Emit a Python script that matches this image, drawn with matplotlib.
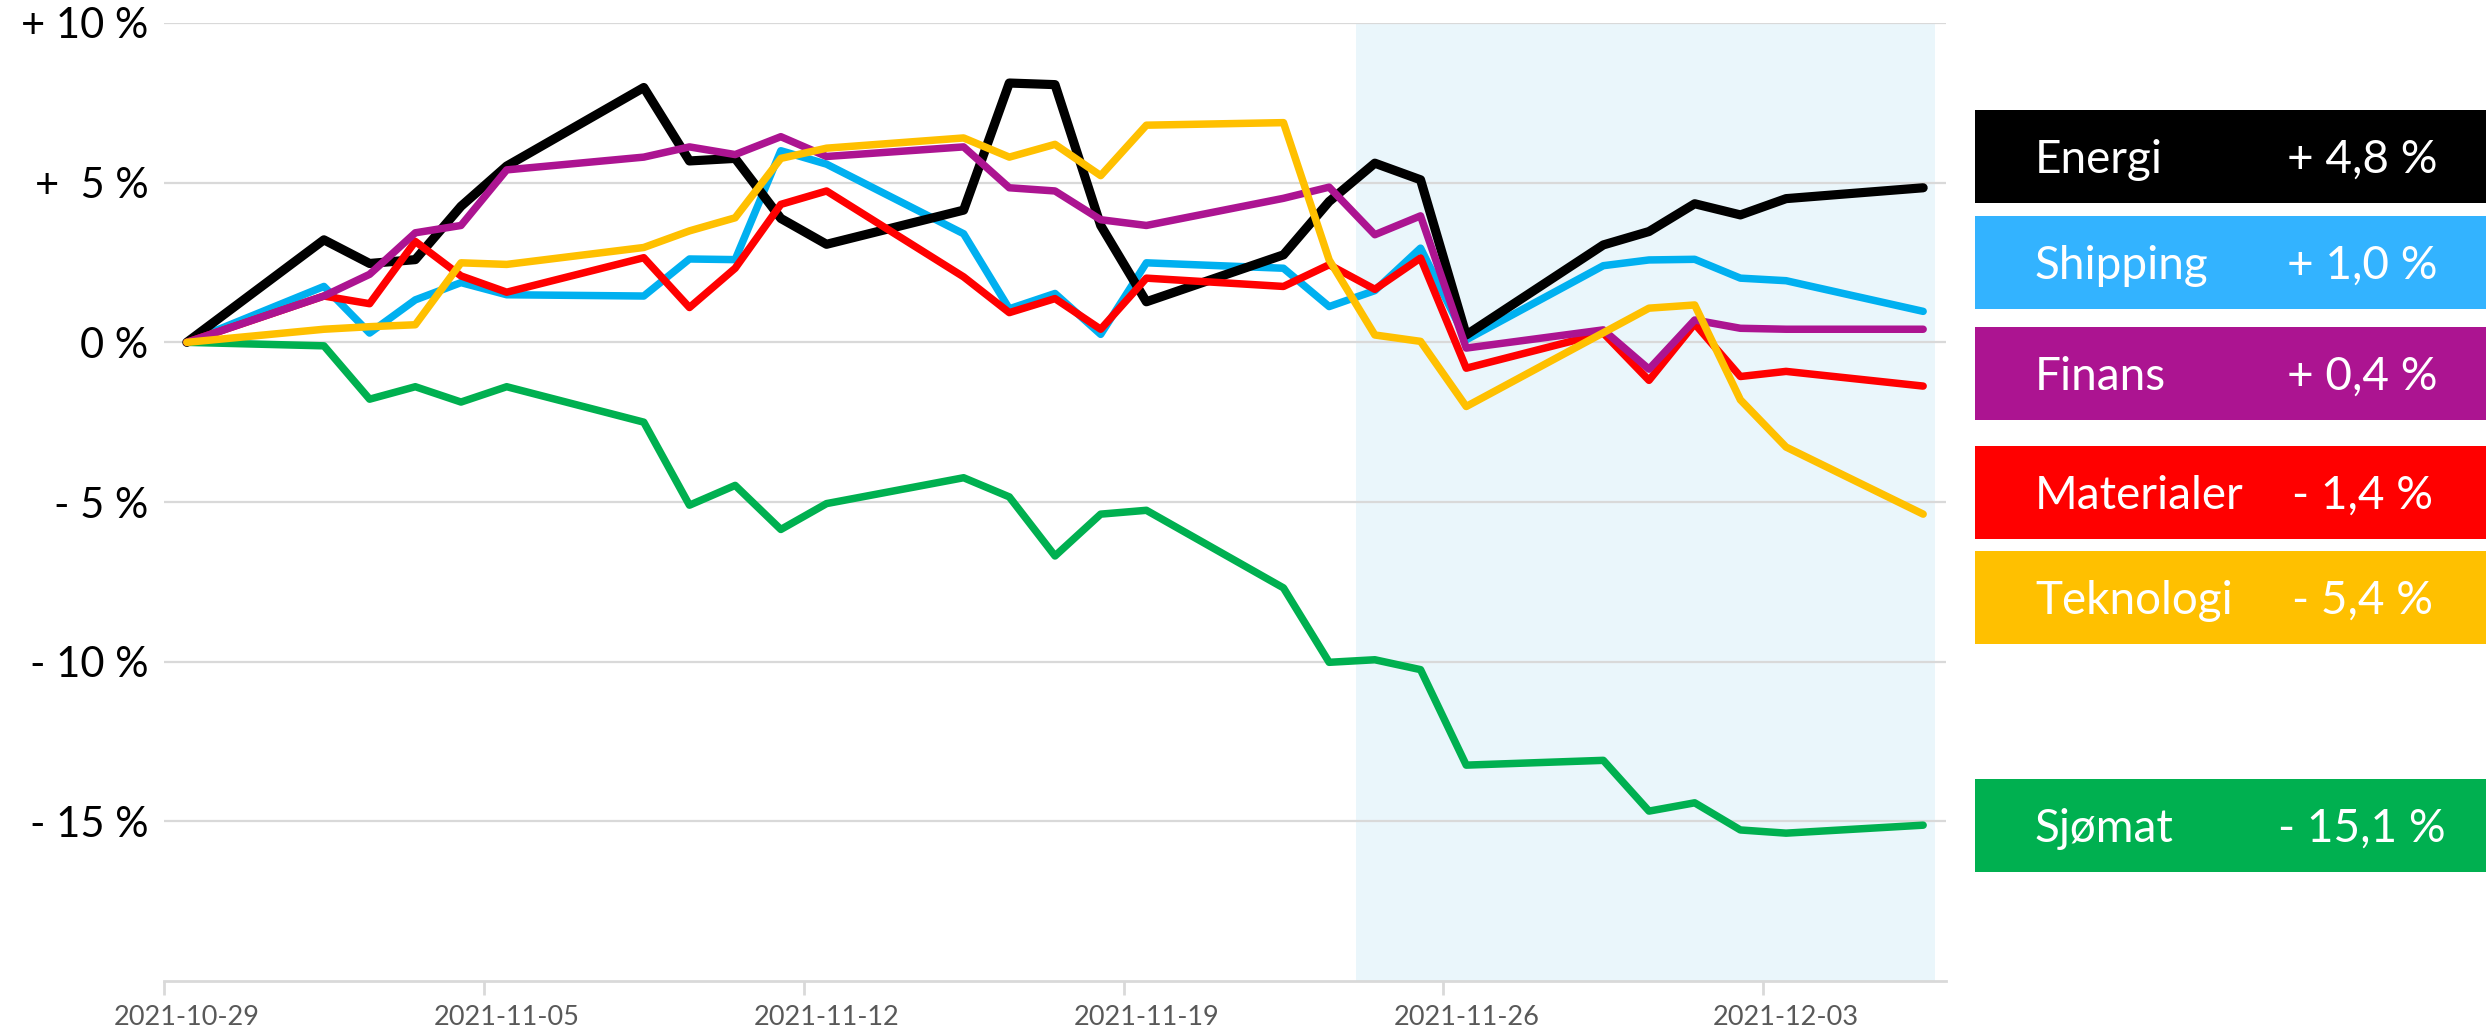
import pandas as pd
import matplotlib.pyplot as plt
from matplotlib.patches import Rectangle

plt.rcParams['font.family'] = ['Lato', 'DejaVu Sans']

# Data (prosent endring siden 29.10.2021)
datoer = pd.to_datetime([
    "2021-10-29", "2021-11-01", "2021-11-02", "2021-11-03", "2021-11-04", "2021-11-05",
    "2021-11-08", "2021-11-09", "2021-11-10", "2021-11-11", "2021-11-12",
    "2021-11-15", "2021-11-16", "2021-11-17", "2021-11-18", "2021-11-19",
    "2021-11-22", "2021-11-23", "2021-11-24", "2021-11-25", "2021-11-26",
    "2021-11-29", "2021-11-30", "2021-12-01", "2021-12-02", "2021-12-03",
    "2021-12-06",
])

energi = [0, 3.21, 2.47, 2.59, 4.26, 5.52, 7.98, 5.68, 5.76, 3.88, 3.07,
          4.14, 8.12, 8.07, 3.66, 1.27, 2.74, 4.41, 5.61, 5.09, 0.23,
          3.05, 3.47, 4.34, 3.99, 4.50, 4.84]
shipping = [0, 1.75, 0.29, 1.33, 1.87, 1.49, 1.45, 2.61, 2.59, 6.00, 5.58,
            3.40, 1.05, 1.53, 0.25, 2.49, 2.32, 1.12, 1.62, 2.95, 0.08,
            2.40, 2.58, 2.60, 2.01, 1.93, 0.97]
finans = [0, 1.45, 2.13, 3.43, 3.66, 5.40, 5.80, 6.12, 5.88, 6.44, 5.82,
          6.12, 4.84, 4.74, 3.84, 3.66, 4.51, 4.86, 3.37, 3.96, -0.18,
          0.39, -0.84, 0.70, 0.44, 0.41, 0.41]
materialer = [0, 1.45, 1.21, 3.16, 2.08, 1.57, 2.65, 1.09, 2.32, 4.32, 4.74,
              2.05, 0.93, 1.37, 0.41, 2.01, 1.75, 2.43, 1.66, 2.64, -0.81,
              0.29, -1.19, 0.58, -1.07, -0.91, -1.37]
teknologi = [0, 0.41, 0.49, 0.55, 2.49, 2.44, 2.97, 3.49, 3.90, 5.76, 6.08,
             6.40, 5.80, 6.20, 5.22, 6.80, 6.88, 2.58, 0.23, 0.03, -2.01,
             0.30, 1.07, 1.17, -1.80, -3.28, -5.38]
sjomat = [0, -0.11, -1.78, -1.39, -1.87, -1.39, -2.50, -5.10, -4.48, -5.86, -5.05,
          -4.24, -4.84, -6.69, -5.38, -5.26, -7.69, -10.02, -9.94, -10.25, -13.24,
          -13.09, -14.68, -14.42, -15.27, -15.37, -15.12]

y_ticks = [-15, -10, -5, 0, 5, 10]
y_labels = ["- 15 %", "- 10 %", "- 5 %", "0 %", "+  5 %", "+ 10 %"]
x_labels = ["2021-10-29", "2021-11-05", "2021-11-12", "2021-11-19", "2021-11-26", "2021-12-03"]

navn = ["Energi", "Shipping", "Finans", "Materialer", "Teknologi", "Sjømat"]
endring = ["+ 4,8 %", "+ 1,0 %", "+ 0,4 %", "- 1,4 %", "- 5,4 %", "- 15,1 %"]

# Figur
W, H = 2486, 1036
fig = plt.figure(figsize=(W / 100, H / 100), dpi=100)
ax = fig.add_axes([164 / W, (H - 981) / H, (1946 - 164) / W, (981 - 23) / H])

halvdag = pd.Timedelta(hours=12)
ax.set_xlim(datoer[0] - halvdag, datoer[-1] + halvdag)
ax.set_ylim(-20, 10)

# skyggelagt periode
ax.axvspan(pd.Timestamp("2021-11-23 14:00"), pd.Timestamp("2021-12-06 06:00"),
           color="#EAF6FB", zorder=0, lw=0)

# linjer (tegnerekkefølge som i originalen)
linjer = [
    (sjomat, "#00B050", 5.4),
    (shipping, "#00B0F0", 5.4),
    (energi, "#000000", 6.6),
    (materialer, "#FF0000", 5.4),
    (finans, "#AC1491", 5.4),
    (teknologi, "#FFC000", 5.4),
]
for verdier, farge, lw in linjer:
    ax.plot(datoer, verdier, color=farge, lw=lw, solid_capstyle="round",
            solid_joinstyle="round", zorder=3)

# akser
for s in ["top", "right", "left"]:
    ax.spines[s].set_visible(False)
ax.spines["bottom"].set_color("#D9D9D9")
ax.spines["bottom"].set_linewidth(2)

ax.set_yticks(y_ticks)
ax.set_yticklabels(y_labels)
ax.yaxis.grid(True, color="#D9D9D9", lw=1.6)
ax.set_axisbelow(True)
ax.tick_params(axis="y", length=0, labelsize=30, pad=11)

xt = pd.to_datetime(x_labels)
ax.set_xticks(xt)
ax.set_xticklabels(x_labels)
ax.set_xticks(xt - halvdag, minor=True)
ax.tick_params(axis="x", which="major", length=0, labelsize=19.5,
               labelcolor="#595959", pad=17)
ax.tick_params(axis="x", which="minor", length=10, width=2, color="#D9D9D9")

# forklaring (fargede bokser til høyre)
boks_farger = ["#000000", "#33B3FF", "#AC1491", "#FF0000", "#FFC000", "#00B050"]
boks_topp = [110, 216, 327, 446, 551, 779]
boks_hoyde = 93
for n, e, farge, topp in zip(navn, endring, boks_farger, boks_topp):
    fig.add_artist(Rectangle((1975 / W, 1 - (topp + boks_hoyde) / H),
                             (W - 1975) / W, boks_hoyde / H,
                             transform=fig.transFigure, color=farge, lw=0))
    baseline = 1 - (topp + boks_hoyde / 2 + 16.5) / H
    fig.text(2035 / W, baseline, n, color="white", fontsize=33, va="baseline", ha="left")
    fig.text(2362 / W, baseline, e, color="white", fontsize=33, va="baseline", ha="center")

fig.savefig("out.png", dpi=100)
